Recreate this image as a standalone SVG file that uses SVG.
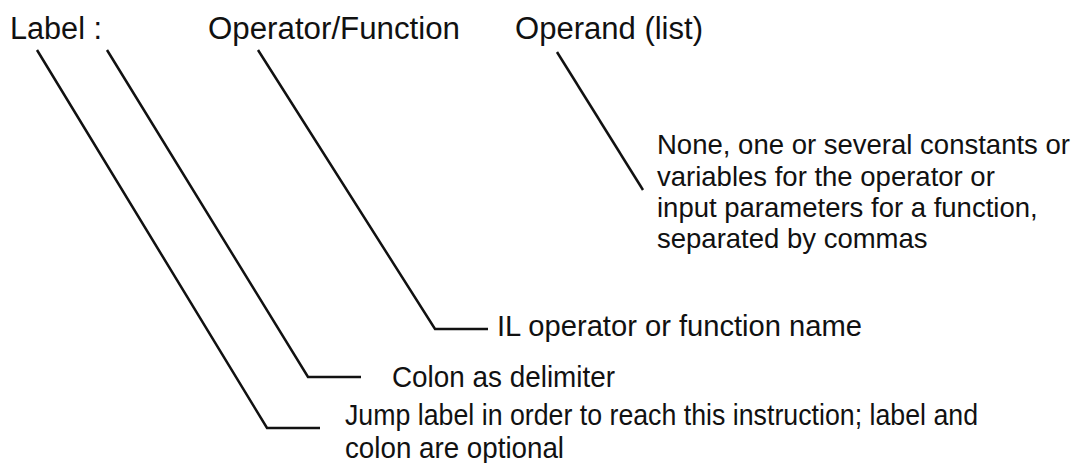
<svg xmlns="http://www.w3.org/2000/svg" width="1078" height="463" viewBox="0 0 1078 463">
<style>
.h{font-family:"Liberation Sans",Arial,sans-serif;font-size:31px;fill:#111}
.t{font-family:"Liberation Sans",Arial,sans-serif;font-size:27.5px;fill:#111}
.n{font-family:"Liberation Sans",Arial,sans-serif;font-size:30px;fill:#111}
.c{fill:none;stroke:#111;stroke-width:2.5;stroke-linejoin:miter}
</style>
<rect width="1078" height="463" fill="#fff"/>
<g id="header-label"><text class="h" x="10" y="39" textLength="92" lengthAdjust="spacingAndGlyphs">Label :</text></g>
<g id="header-operator"><text class="h" x="208" y="39" textLength="252" lengthAdjust="spacingAndGlyphs">Operator/Function</text></g>
<g id="header-operand"><text class="h" x="515" y="39" textLength="188" lengthAdjust="spacingAndGlyphs">Operand (list)</text></g>
<g id="note-operand"><text class="t" x="657" y="154" textLength="413" lengthAdjust="spacingAndGlyphs">None, one or several constants or</text><text class="t" x="657" y="186">variables for the operator or</text><text class="t" x="657" y="217">input parameters for a function,</text><text class="t" x="657" y="248">separated by commas</text></g>
<g id="note-operator"><text class="n" x="497" y="336" textLength="365" lengthAdjust="spacingAndGlyphs">IL operator or function name</text></g>
<g id="note-colon"><text class="n" x="392" y="387" textLength="223" lengthAdjust="spacingAndGlyphs">Colon as delimiter</text></g>
<g id="note-label"><text class="n" x="345" y="425" textLength="633" lengthAdjust="spacingAndGlyphs">Jump label in order to reach this instruction; label and</text><text class="n" x="345" y="458" textLength="219" lengthAdjust="spacingAndGlyphs">colon are optional</text></g>
<g id="connectors">
<polyline class="c" points="37,50 267,428 320,428"/>
<polyline class="c" points="107,50 308,377 361,377"/>
<polyline class="c" points="258,50 435,329 488,329"/>
<polyline class="c" points="557,52 643,190"/>
</g>
</svg>
